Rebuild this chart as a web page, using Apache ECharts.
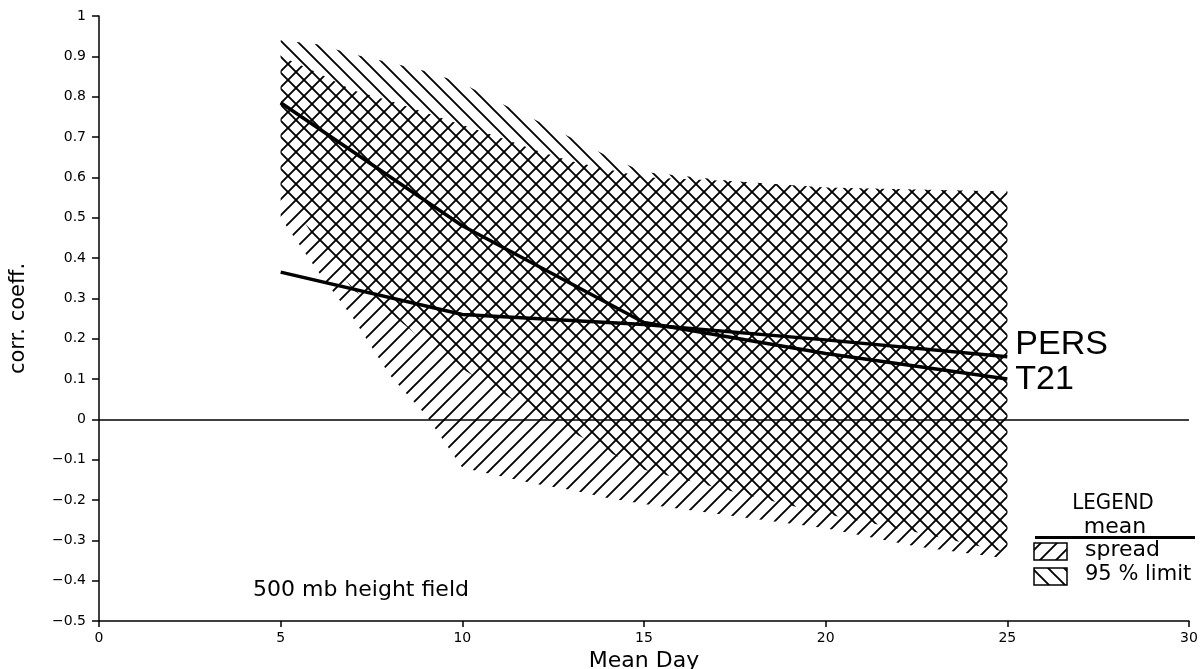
<!DOCTYPE html>
<html>
<head>
<meta charset="utf-8">
<script src="https://cdn.jsdelivr.net/npm/echarts@6/dist/echarts.min.js"></script>
<style>
  html, body { margin: 0; padding: 0; background: #fff; }
  #chart { width: 1201px; height: 669px; }
</style>
</head>
<body>
<div id="chart"></div>
<script>
// x positions where the shaded bands are sampled (Mean Day)
var bandDays = [5, 6, 7, 8, 9, 10, 11, 12, 13, 14, 15, 17.5, 20, 22.5, 25];
// 95 % limit band (\\\ hatching)
var limitUpper = [0.94, 0.93, 0.905, 0.885, 0.863, 0.833, 0.786, 0.743, 0.698, 0.652, 0.613, 0.59, 0.575, 0.57, 0.565];
var limitLower = [0.58, 0.44, 0.32, 0.265, 0.19, 0.125, 0.07, 0.015, -0.03, -0.08, -0.125, -0.18, -0.235, -0.28, -0.33];
// spread band (/// hatching)
var spreadUpper = [0.90, 0.86, 0.815, 0.79, 0.76, 0.73, 0.70, 0.668, 0.64, 0.62, 0.60, 0.59, 0.575, 0.57, 0.565];
var spreadLower = [0.50, 0.37, 0.25, 0.11, 0.01, -0.12, -0.14, -0.16, -0.175, -0.195, -0.21, -0.24, -0.27, -0.315, -0.345];
// mean curves
var meanDays = [5, 10, 15, 20, 25];
var t21Mean = [0.785, 0.48, 0.24, 0.163, 0.10];
var persMean = [0.365, 0.26, 0.235, 0.197, 0.155];

// small tile with one diagonal line, repeated to make the hatching
function hatch(dir) {
  var s = 16;
  var c = document.createElement('canvas');
  c.width = s;
  c.height = s;
  var g = c.getContext('2d');
  g.strokeStyle = '#000';
  g.lineWidth = 1.9;
  g.beginPath();
  if (dir === '/') {
    g.moveTo(-2, s + 2); g.lineTo(s + 2, -2);
    g.moveTo(-2, 2); g.lineTo(2, -2);
    g.moveTo(s - 2, s + 2); g.lineTo(s + 2, s - 2);
  } else {
    g.moveTo(-2, -2); g.lineTo(s + 2, s + 2);
    g.moveTo(s - 2, -2); g.lineTo(s + 2, 2);
    g.moveTo(-2, s - 2); g.lineTo(2, s + 2);
  }
  g.stroke();
  return c;
}
var spreadHatch = hatch('/');
var limitHatch = hatch('\\');

function pairs(xs, ys) {
  return xs.map(function (x, i) { return [x, ys[i]]; });
}

// band as one polygon: upper edge left->right, lower edge right->left
function band(name, lower, upper, pattern) {
  return {
    name: name, type: 'custom', silent: true, z: 1,
    data: bandDays.map(function (d, i) { return [d, lower[i], upper[i]]; }),
    renderItem: function (params, api) {
      if (params.dataIndex !== 0) return null;
      var pts = [];
      bandDays.forEach(function (d, i) { pts.push(api.coord([d, upper[i]])); });
      for (var i = bandDays.length - 1; i >= 0; i--) pts.push(api.coord([bandDays[i], lower[i]]));
      return {
        type: 'polygon',
        shape: { points: pts },
        style: { fill: { image: pattern, repeat: 'repeat' }, stroke: null }
      };
    }
  };
}

var tickFont = 'DejaVu Sans';
var chart = echarts.init(document.getElementById('chart'));

chart.setOption({
  animation: false,
  backgroundColor: '#fff',
  grid: { left: 99, right: 12, top: 16, bottom: 48, outerBoundsMode: 'none', containLabel: false },
  xAxis: {
    type: 'value', min: 0, max: 30, interval: 5,
    name: 'Mean Day', nameLocation: 'middle', nameGap: 26,
    nameTextStyle: { fontFamily: tickFont, fontSize: 22, color: '#000' },
    axisLine: { onZero: false, lineStyle: { color: '#000', width: 1.5 } },
    axisTick: { length: 6, lineStyle: { color: '#000', width: 1.5 } },
    axisLabel: { color: '#000', fontFamily: tickFont, fontSize: 14, margin: 10 },
    splitLine: { show: false }
  },
  yAxis: {
    type: 'value', min: -0.5, max: 1, interval: 0.1,
    name: 'corr. coeff.', nameLocation: 'middle', nameGap: 70,
    nameTextStyle: { fontFamily: tickFont, fontSize: 21, color: '#000' },
    axisLine: { show: true, onZero: false, lineStyle: { color: '#000', width: 1.5 } },
    axisTick: { show: true, length: 7, lineStyle: { color: '#000', width: 1.5 } },
    axisLabel: {
      color: '#000', fontFamily: tickFont, fontSize: 14, margin: 13,
      formatter: function (v) {
        var r = Math.round(v * 10) / 10;
        if (r === 0) return '0';
        return String(r).replace('-', '\u2212');
      }
    },
    splitLine: { show: false }
  },
  series: [
    band('95 % limit', limitLower, limitUpper, limitHatch),
    band('spread', spreadLower, spreadUpper, spreadHatch),
    {
      name: 'PERS', type: 'line', symbol: 'none', z: 3,
      data: pairs(meanDays, persMean),
      lineStyle: { color: '#000', width: 3.5 }, color: '#000',
      endLabel: {
        show: true, formatter: '{a}', color: '#000',
        fontFamily: 'Liberation Sans', fontSize: 34, distance: 8, offset: [0, -12]
      },
      markLine: {
        silent: true, symbol: 'none', label: { show: false },
        lineStyle: { color: '#000', width: 1.5, type: 'solid' },
        data: [{ yAxis: 0 }]
      }
    },
    {
      name: 'T21', type: 'line', symbol: 'none', z: 3,
      data: pairs(meanDays, t21Mean),
      lineStyle: { color: '#000', width: 3.5 }, color: '#000',
      endLabel: {
        show: true, formatter: '{a}', color: '#000',
        fontFamily: 'Liberation Sans', fontSize: 34, distance: 8, offset: [0, 1]
      }
    }
  ],
  graphic: [
    {
      type: 'text', x: 253, y: 590,
      style: { text: '500 mb height field', font: '22px "DejaVu Sans"', fill: '#000',
        textVerticalAlign: 'middle', verticalAlign: 'middle' }
    },
    {
      type: 'text', x: 1113, y: 503,
      style: { text: 'LEGEND', font: '22px "Liberation Sans Narrow", "DejaVu Sans Condensed", sans-serif',
        fill: '#000', textAlign: 'center', align: 'center', textVerticalAlign: 'middle', verticalAlign: 'middle' }
    },
    {
      type: 'text', x: 1115, y: 527,
      style: { text: 'mean', font: '22px "DejaVu Sans"', fill: '#000',
        textAlign: 'center', align: 'center', textVerticalAlign: 'middle', verticalAlign: 'middle' }
    },
    {
      type: 'line', shape: { x1: 1035, y1: 537.5, x2: 1195, y2: 537.5 },
      style: { stroke: '#000', lineWidth: 3 }
    },
    {
      type: 'rect', shape: { x: 1034, y: 543, width: 33, height: 17 },
      style: { fill: { image: spreadHatch, repeat: 'repeat' }, stroke: '#000', lineWidth: 1.5 }
    },
    {
      type: 'text', x: 1085, y: 550,
      style: { text: 'spread', font: '22px "DejaVu Sans"', fill: '#000',
        textVerticalAlign: 'middle', verticalAlign: 'middle' }
    },
    {
      type: 'rect', shape: { x: 1034, y: 568, width: 33, height: 17 },
      style: { fill: { image: limitHatch, repeat: 'repeat' }, stroke: '#000', lineWidth: 1.5 }
    },
    {
      type: 'text', x: 1085, y: 575,
      style: { text: '95 % limit', font: '21px "DejaVu Sans"', fill: '#000',
        textVerticalAlign: 'middle', verticalAlign: 'middle' }
    }
  ]
});
</script>
</body>
</html>
